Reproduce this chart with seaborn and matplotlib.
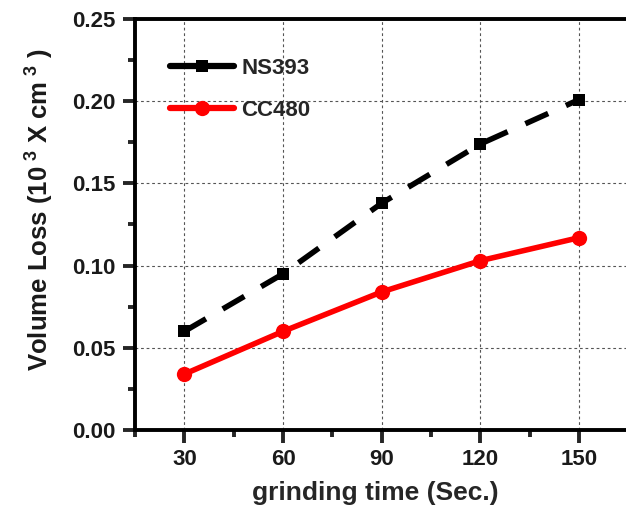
import matplotlib
matplotlib.use("Agg")
import matplotlib.pyplot as plt
import seaborn as sns
from matplotlib.lines import Line2D
from matplotlib.ticker import MultipleLocator, FormatStrFormatter

time_sec = [30, 60, 90, 120, 150]
ns393 = [0.060, 0.095, 0.138, 0.174, 0.201]
cc480 = [0.034, 0.060, 0.084, 0.103, 0.117]

sns.set_style("white")
plt.rcParams['font.family'] = ['Liberation Sans', 'DejaVu Sans']
plt.rcParams['font.weight'] = 'bold'
plt.rcParams['mathtext.fontset'] = 'custom'
plt.rcParams['mathtext.rm'] = 'Liberation Sans:bold'
plt.rcParams['mathtext.it'] = 'Liberation Sans:bold'
plt.rcParams['mathtext.bf'] = 'Liberation Sans:bold'

fig = plt.figure(figsize=(6.26, 5.08), dpi=100)
ax = fig.add_axes([135/626, 1-430/508, (628.5-135)/626, (430-19)/508])

sns.lineplot(x=time_sec, y=ns393, ax=ax, color='black', marker='s', markersize=9,
             linewidth=4, linestyle=(0, (4.5, 3.5)), markeredgewidth=0, label='NS393')
sns.lineplot(x=time_sec, y=cc480, ax=ax, color='#ff0000', marker='o', markersize=11,
             linewidth=4, markeredgewidth=0, label='CC480')

ax.set_xlim(15, 165)
ax.set_ylim(0, 0.25)
ax.xaxis.set_major_locator(MultipleLocator(30))
ax.xaxis.set_minor_locator(MultipleLocator(15))
ax.yaxis.set_major_locator(MultipleLocator(0.05))
ax.yaxis.set_minor_locator(MultipleLocator(0.025))
ax.yaxis.set_major_formatter(FormatStrFormatter('%.2f'))

ax.grid(True, which='major', color='#555555', linestyle=(0, (2.5, 2.5)), linewidth=0.8)
for s in ax.spines.values():
    s.set_linewidth(2.8)
    s.set_color('black')

ax.tick_params(which='major', direction='out', length=9, width=2.8, labelsize=16,
               bottom=True, left=True, top=False, right=False, pad=5)
ax.tick_params(which='minor', direction='out', length=5, width=2.8,
               bottom=True, left=True, top=False, right=False)
for lbl in ax.get_xticklabels() + ax.get_yticklabels():
    lbl.set_fontweight('bold')
    lbl.set_color('#1a1a1a')

ax.set_xlabel('grinding time (Sec.)', fontsize=19, fontweight='bold')
ax.xaxis.set_label_coords(0.487, -0.125)
ax.set_ylabel('Volume Loss (10$^{\\ 3}$ X cm$^{\\ 3}$ )', fontsize=18.5,
              fontweight='bold', color='#1a1a1a')
ax.yaxis.set_label_coords(-0.16, 0.535)

handles = [
    Line2D([], [], color='black', marker='s', markersize=9, linewidth=4.5, markeredgewidth=0),
    Line2D([], [], color='#ff0000', marker='o', markersize=11, linewidth=4.5, markeredgewidth=0),
]
leg = ax.legend(handles, ['NS393', 'CC480'], loc='upper left', frameon=False, fontsize=16,
                handlelength=2.9, bbox_to_anchor=(0.071, 0.905), borderaxespad=0, borderpad=0,
                labelspacing=0.95, handletextpad=0.3)

fig.savefig('out.png', dpi=100)
